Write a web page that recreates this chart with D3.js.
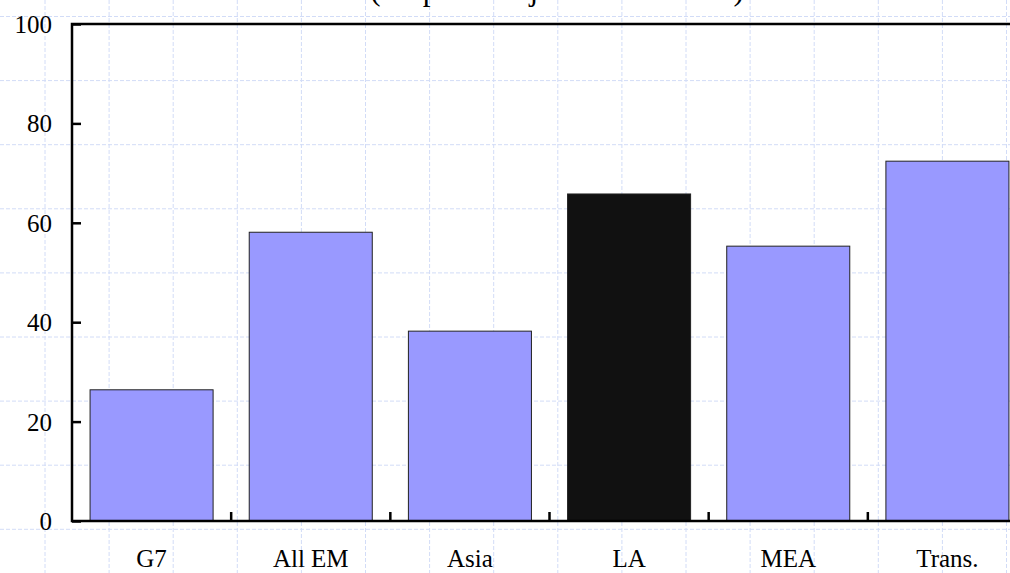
<!DOCTYPE html>
<html lang="en">
<head>
    <meta charset="UTF-8">
    <title>Deuda</title>
    <script src="https://d3js.org/d3.v7.min.js"></script>
    <style>
        body { margin: 0; background: #fff; }
        svg { display: block; }
        text { font-family: 'Liberation Serif', 'Times New Roman', serif; fill: #000; }
        .grid line { stroke: #d2dcf7; stroke-width: 1; stroke-dasharray: 4,2; }
    </style>
</head>
<body>
    <svg id="chart" width="1010" height="573"></svg>
    <script>
        // data
        const categories = ["G7", "All EM", "Asia", "LA", "MEA", "Trans."];
        const values = [26.4, 58.1, 38.2, 65.8, 55.3, 72.4];
        const highlight = ["LA"];
        const yTicks = [0, 20, 40, 60, 80, 100];
        const title = "(En porcentaje de deuda total)";

        const width = 1010, height = 573;
        const plot = { left: 72, right: 1027, top: 24, bottom: 521 };

        const svg = d3.select("#chart");

        // background graph-paper grid
        const gridStep = 64.1;
        const grid = svg.append("g").attr("class", "grid");
        grid.selectAll(".v").data(d3.range(45, width, gridStep)).enter()
            .append("line").attr("class", "v")
            .attr("x1", d => d).attr("x2", d => d)
            .attr("y1", 0).attr("y2", height);
        grid.selectAll(".h").data(d3.range(16.5, height, gridStep)).enter()
            .append("line").attr("class", "h")
            .attr("y1", d => d).attr("y2", d => d)
            .attr("x1", 0).attr("x2", width);

        const x = d3.scaleBand()
            .domain(categories)
            .range([plot.left, plot.right])
            .paddingInner(0.227)
            .paddingOuter(0.1135);

        const y = d3.scaleLinear()
            .domain([0, 100])
            .range([plot.bottom, plot.top]);

        // bars
        svg.selectAll(".bar")
            .data(categories)
            .enter()
            .append("rect")
            .attr("class", "bar")
            .attr("x", d => x(d))
            .attr("y", (d, i) => y(values[i]))
            .attr("width", x.bandwidth())
            .attr("height", (d, i) => y(0) - y(values[i]))
            .attr("fill", d => highlight.includes(d) ? "#111111" : "#9999ff")
            .attr("stroke", "#222")
            .attr("stroke-width", 1);

        // frame
        svg.append("rect")
            .attr("x", plot.left).attr("y", plot.top)
            .attr("width", plot.right - plot.left)
            .attr("height", plot.bottom - plot.top)
            .attr("fill", "none")
            .attr("stroke", "#000")
            .attr("stroke-width", 2.5);

        // y axis: inward ticks, labels on the left
        const yAxis = d3.axisLeft(y).tickValues(yTicks).tickSize(-9).tickPadding(20);
        const gy = svg.append("g")
            .attr("transform", `translate(${plot.left},0)`)
            .call(yAxis);
        gy.select(".domain").remove();
        gy.selectAll(".tick line").attr("stroke", "#000").attr("stroke-width", 2.5);
        gy.selectAll(".tick text")
            .attr("x", 52 - plot.left)
            .attr("dy", "0.34em")
            .style("font-size", "25px");

        // x axis: separator ticks between bands, labels centered
        const gx = svg.append("g")
            .attr("transform", `translate(0,${plot.bottom})`)
            .call(d3.axisBottom(x).tickSize(0).tickPadding(0));
        gx.select(".domain").remove();
        gx.selectAll(".tick text")
            .attr("y", 46)
            .attr("dy", 0)
            .style("font-size", "25px");

        const sep = categories.slice(1).map(d => x(d) - x.step() * x.paddingInner() / 2);
        gx.selectAll(".sep").data(sep).enter()
            .append("line").attr("class", "sep")
            .attr("x1", d => d).attr("x2", d => d)
            .attr("y1", 0).attr("y2", -9)
            .attr("stroke", "#000").attr("stroke-width", 2.5);

        // title (mostly above the visible area)
        svg.append("text")
            .attr("x", 557)
            .attr("y", 0)
            .attr("text-anchor", "middle")
            .style("font-size", "31px")
            .text(title);
    </script>
</body>
</html>
